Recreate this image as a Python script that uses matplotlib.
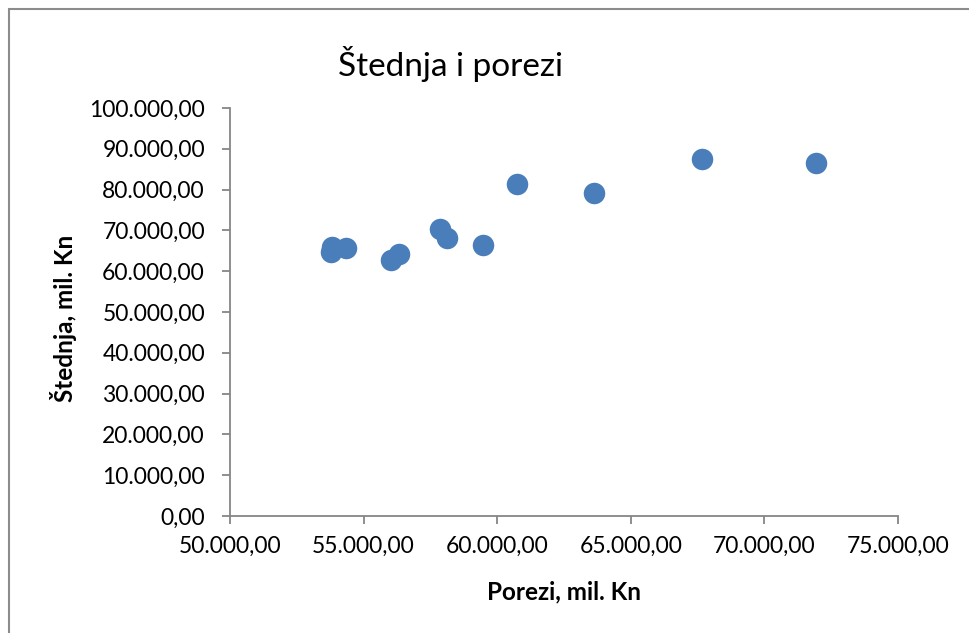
import matplotlib.pyplot as plt
from matplotlib.ticker import FuncFormatter, MultipleLocator
from matplotlib.patches import Rectangle

# porezi (x) i stednja (y), mil. Kn
porezi = [53770, 53820, 54340, 56015, 56335, 57860, 58110, 59480,
          60730, 63635, 67655, 71930]
stednja = [64780, 66000, 65760, 62750, 64140, 70270, 68070, 66420,
           81370, 79090, 87500, 86520]

plt.rcParams['font.family'] = ['Lato', 'DejaVu Sans']

def hr_format(v, pos):
    s = '{:,.2f}'.format(v)
    return s.replace(',', ' ').replace('.', ',').replace(' ', '.')

W, H = 970, 633
fig = plt.figure(figsize=(W / 100, H / 100), dpi=100)
ax = fig.add_axes([230 / W, (H - 516) / H, 668 / W, 408 / H])

ax.scatter(porezi, stednja, s=240, color='#4a7ebb', zorder=3, linewidths=0)

ax.set_xlim(50000, 75000)
ax.set_ylim(0, 100000)
ax.xaxis.set_major_locator(MultipleLocator(5000))
ax.yaxis.set_major_locator(MultipleLocator(10000))
ax.xaxis.set_major_formatter(FuncFormatter(hr_format))
ax.yaxis.set_major_formatter(FuncFormatter(hr_format))

for side in ['top', 'right']:
    ax.spines[side].set_visible(False)
for side in ['left', 'bottom']:
    ax.spines[side].set_color('#868686')
    ax.spines[side].set_linewidth(1.3)
ax.tick_params(colors='#868686', labelcolor='black', labelsize=16.5,
               length=6, width=1.3, direction='out')
ax.tick_params(axis='y', pad=12)
ax.tick_params(axis='x', pad=8)

fig.text(564 / W, 1 - 592 / H, 'Porezi, mil. Kn', fontsize=17.5,
         fontweight='bold', ha='center', va='center')
fig.text(64 / W, 1 - 318 / H, 'Štednja, mil. Kn', fontsize=17.5,
         fontweight='bold', ha='center', va='center', rotation=90)
fig.text(451 / W, 1 - 76 / H, 'Štednja i porezi', fontsize=24,
         ha='center', va='baseline')

# okvir grafikona
fig.patches.append(Rectangle((9 / W, -0.01), 1.0, 1 - 9 / H + 0.01,
                             transform=fig.transFigure, fill=False,
                             edgecolor='#8c8c8c', linewidth=1.5))

fig.savefig('out.png', dpi=100)
